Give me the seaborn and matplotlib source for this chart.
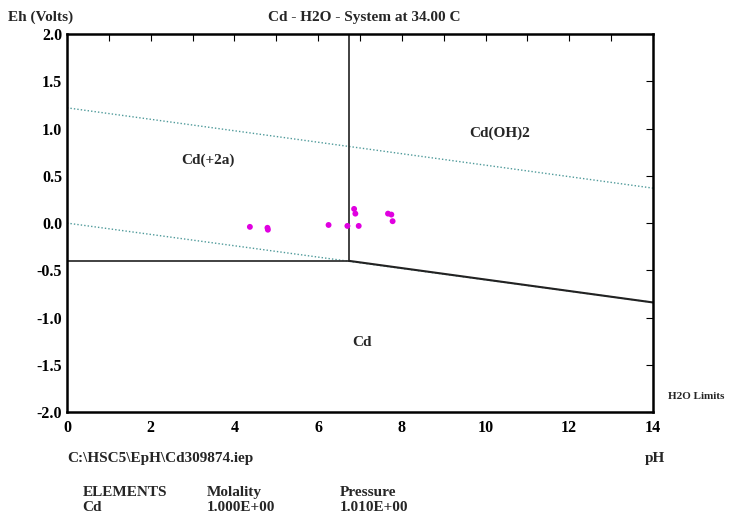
import pandas as pd
import matplotlib
matplotlib.use("Agg")
import matplotlib.pyplot as plt
import seaborn as sns

# Datos de la muestra (pH, Eh)
ph_muestras = [4.37, 4.79, 4.80, 6.25, 6.70, 6.86, 6.89, 6.97, 7.67, 7.75, 7.78]
eh_muestras = [-0.04, -0.05, -0.07, -0.02, -0.03, 0.15, 0.10, -0.03, 0.10, 0.09, 0.02]

# Limites del agua
ph_limites = [0, 14]
eh_limite_sup = [1.22, 0.37]
eh_limite_inf = [0.0, -0.84]

# Fronteras de los campos
ph_vertical = [6.74, 6.74]
eh_vertical = [2.0, -0.40]
ph_horizontal = [0, 6.74]
eh_horizontal = [-0.40, -0.40]
ph_oblicua = [6.74, 14]
eh_oblicua = [-0.40, -0.84]

etiquetas = ["Cd(+2a)", "Cd(OH)2", "Cd"]
etiq_ph = [3.37, 10.34, 7.05]
etiq_eh = [0.67, 0.95, -1.26]

sns.set_style("white")
plt.rcParams["font.family"] = ["Liberation Serif", "DejaVu Serif"]
plt.rcParams["font.weight"] = "bold"

fig = plt.figure(figsize=(7.32, 5.17), dpi=100)
ax = fig.add_axes([0.0915, 0.203, 0.8005, 0.731])

teal = "#4f9a9a"
sns.lineplot(x=ph_limites, y=eh_limite_sup, ax=ax, color=teal, lw=1.0,
             linestyle=(0, (1, 1.5)))
sns.lineplot(x=ph_limites, y=eh_limite_inf, ax=ax, color=teal, lw=1.0,
             linestyle=(0, (1, 1.5)))
sns.lineplot(x=ph_vertical, y=eh_vertical, ax=ax, color="#333333", lw=1.3,
             sort=False, estimator=None)
sns.lineplot(x=ph_horizontal, y=eh_horizontal, ax=ax, color="#333333", lw=1.3)
sns.lineplot(x=ph_oblicua, y=eh_oblicua, ax=ax, color="#222222", lw=1.5)

df = pd.DataFrame({"pH": ph_muestras, "Eh": eh_muestras})
sns.scatterplot(data=df, x="pH", y="Eh", ax=ax, color="#e000e0", s=18,
                edgecolor="none", zorder=5)

for t, x, y in zip(etiquetas, etiq_ph, etiq_eh):
    ax.text(x, y, t, ha="center", va="center", fontsize=11, fontweight="bold")

ax.set_xlim(0, 14)
ax.set_ylim(-2.0, 2.0)
ax.set_xticks(range(0, 15, 2))
ax.set_xticks(range(0, 15), minor=True)
ax.set_yticks([-2.0, -1.5, -1.0, -0.5, 0.0, 0.5, 1.0, 1.5, 2.0])
ax.set_yticklabels([f"{v:.1f}" for v in [-2.0, -1.5, -1.0, -0.5, 0.0, 0.5, 1.0, 1.5, 2.0]])
ax.tick_params(axis="both", which="both", direction="in", top=True, right=True,
               length=5, width=0.8, labelsize=11.5, colors="black")
ax.tick_params(axis="x", which="major", length=5, pad=6)
for lbl in ax.get_xticklabels() + ax.get_yticklabels():
    lbl.set_fontweight("bold")
for sp in ax.spines.values():
    sp.set_color("black")
    sp.set_linewidth(1.8)
ax.set_xlabel("")
ax.set_ylabel("")

fig.text(0.011, 0.967, "Eh (Volts)", fontsize=11, fontweight="bold", va="center")
fig.text(0.498, 0.967, "Cd - H2O - System at 34.00 C", fontsize=11,
         fontweight="bold", ha="center", va="center")
fig.text(0.913, 0.234, "H2O Limits", fontsize=8, fontweight="bold", va="center")
fig.text(0.0915, 0.114, "C:\\HSC5\\EpH\\Cd309874.iep", fontsize=11,
         fontweight="bold", va="center")
fig.text(0.881, 0.114, "pH", fontsize=11, fontweight="bold", va="center")
fig.text(0.113, 0.048, "ELEMENTS", fontsize=11, fontweight="bold", va="center")
fig.text(0.283, 0.048, "Molality", fontsize=11, fontweight="bold", va="center")
fig.text(0.464, 0.048, "Pressure", fontsize=11, fontweight="bold", va="center")
fig.text(0.113, 0.019, "Cd", fontsize=11, fontweight="bold", va="center")
fig.text(0.283, 0.019, "1.000E+00", fontsize=11, fontweight="bold", va="center")
fig.text(0.464, 0.019, "1.010E+00", fontsize=11, fontweight="bold", va="center")

fig.savefig("out.png", dpi=100, facecolor="white")
